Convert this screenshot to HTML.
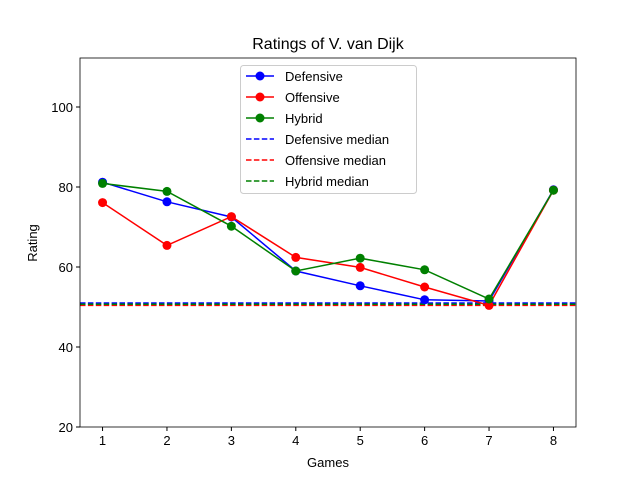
<!DOCTYPE html>
<html><head><meta charset="utf-8"><style>body{margin:0;background:#fff}svg{display:block;font-family:"Liberation Sans","DejaVu Sans",sans-serif}</style></head>
<body>
<svg id="chart" width="640" height="480"></svg>
<script>
const games=[1,2,3,4,5,6,7,8];
const defensive=[81.2,76.3,72.5,59.0,55.3,51.8,51.5,79.3];
const offensive=[76.1,65.4,72.6,62.4,59.9,55.0,50.4,79.2];
const hybrid=[80.9,78.9,70.2,59.0,62.2,59.3,52.0,79.2];
const medDef=51.0, medOff=50.4, medHyb=50.7;
const yTicks=[20,40,60,80,100];
const L=80,R=576,T=58,B=427,xmin=0.65,xmax=8.35,ymin=20,ymax=112.25;
const X=v=>L+(v-xmin)/(xmax-xmin)*(R-L);
const Y=v=>B-(v-ymin)/(ymax-ymin)*(B-T);
const svg=document.getElementById('chart');const NS='http://www.w3.org/2000/svg';
function mk(t,a,p){const e=document.createElementNS(NS,t);for(const k in a)e.setAttribute(k,a[k]);(p||svg).appendChild(e);return e;}
function txt(s,a){const e=mk('text',a);e.textContent=s;return e;}
const tt=txt('Ratings of V. van Dijk',{x:328,y:49,'font-size':16,'text-anchor':'middle'});


games.forEach(g=>{const l=mk('line',{x1:X(g),x2:X(g),y1:B,y2:B+4,stroke:'#000'});


const t=txt(g,{x:X(g),y:B+18,'font-size':13,'text-anchor':'middle'});

});
yTicks.forEach(v=>{const l=mk('line',{x1:L-4,x2:L,y1:Y(v),y2:Y(v),stroke:'#000'});


const t=txt(v,{x:L-7,y:Y(v)+5,'font-size':13,'text-anchor':'end'});

});
const xt=txt('Games',{x:328,y:467,'font-size':13,'text-anchor':'middle'});


const yt=txt('Rating',{x:37,y:243,'font-size':13,'text-anchor':'middle',transform:'rotate(-90 37 243)'});


[[medDef,'blue','defensive-median'],[medOff,'red','offensive-median'],[medHyb,'green','hybrid-median']].forEach(([m,c,n])=>{
const l=mk('line',{x1:L,x2:R,y1:Y(m),y2:Y(m),stroke:c,'stroke-width':1.5,'stroke-dasharray':'5.5,2.4'});

});
[[defensive,'blue','defensive'],[offensive,'red','offensive'],[hybrid,'green','hybrid']].forEach(([d,c,n])=>{
const g=mk('g',{});


mk('polyline',{points:d.map((v,i)=>X(games[i])+','+Y(v)).join(' '),fill:'none',stroke:c,'stroke-width':1.5},g);
d.forEach((v,i)=>{const p=mk('circle',{cx:X(games[i]),cy:Y(v),r:4.5,fill:c},g);

});});
const fr=mk('rect',{x:L,y:T,width:R-L,height:B-T,fill:'none',stroke:'#000','stroke-width':0.8});


const lg=mk('g',{});


mk('rect',{x:240.5,y:65.5,width:176,height:128,rx:3,fill:'#fff','fill-opacity':0.8,stroke:'#ccc'},lg);
const items=[['Defensive','blue',0],['Offensive','red',0],['Hybrid','green',0],['Defensive median','blue',1],['Offensive median','red',1],['Hybrid median','green',1]];
items.forEach(([s,c,dash],i)=>{const y=76+i*21;
const e=mk('g',{},lg);


mk('line',{x1:246,x2:274,y1:y,y2:y,stroke:c,'stroke-width':1.5,'stroke-dasharray':dash?'5.5,2.4':'none'},e);
if(!dash)mk('circle',{cx:260,cy:y,r:4.5,fill:c},e);
const t=mk('text',{x:285,y:y+5,'font-size':13},e);t.textContent=s;});
</script>
</body></html>
